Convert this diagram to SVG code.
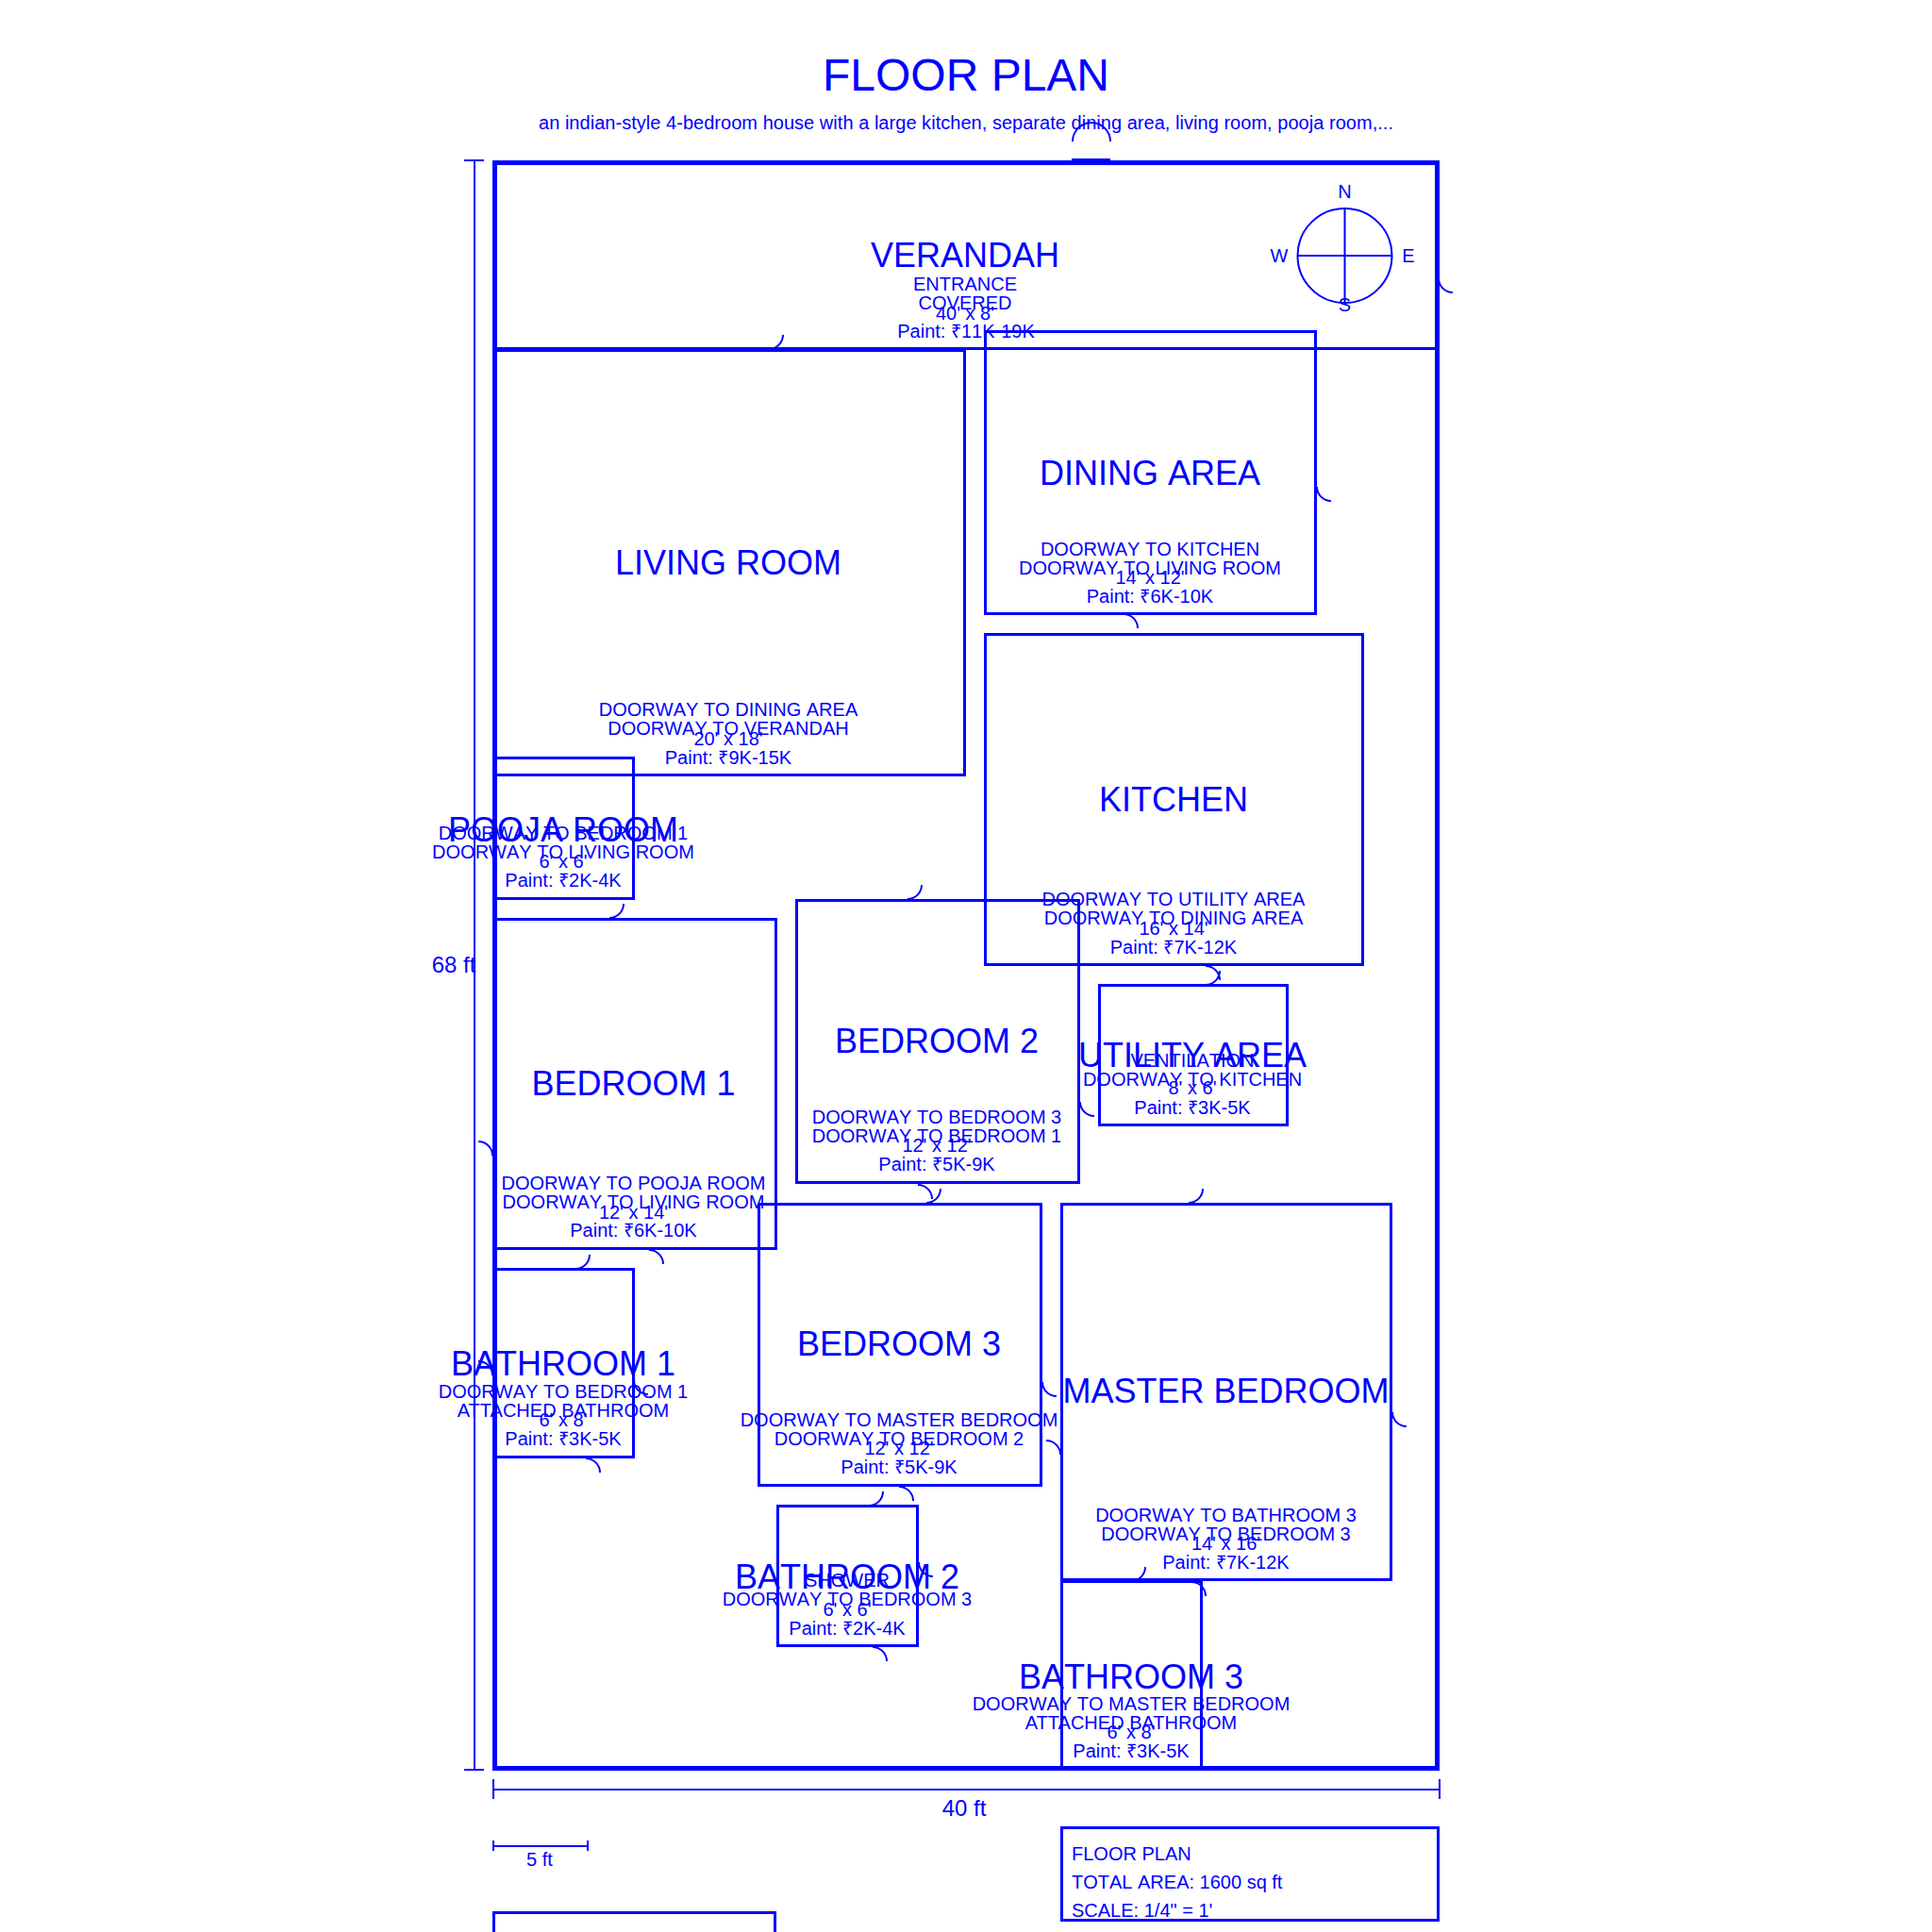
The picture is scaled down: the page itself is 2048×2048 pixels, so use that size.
<svg xmlns="http://www.w3.org/2000/svg" width="2048" height="2048" viewBox="0 0 2048 2048">
<style>
text{font-family:"Liberation Sans",Arial,sans-serif;fill:#00f;text-anchor:middle;font-size:20px;font-kerning:none}
.t{font-size:48px}.n{font-size:36px}.d{font-size:24px}.l{text-anchor:start}.k{font-kerning:normal}
.r{fill:none;stroke:#00f;stroke-width:3}
.w{fill:none;stroke:#00f;stroke-width:5}
.a{fill:none;stroke:#00f;stroke-width:2}
</style>
<rect width="2048" height="2048" fill="#fff"/>
<g id="title"><text class="t" x="1024" y="96">FLOOR PLAN</text>
<text x="1024" y="137" textLength="906">an indian-style 4-bedroom house with a large kitchen, separate dining area, living room, pooja room,...</text></g>
<rect id="outer-wall" class="w" x="524.500" y="172.500" width="999" height="1702"/>
<g id="verandah"><rect class="r" x="524.500" y="171.500" width="999" height="198"/>
<text class="n" x="1023" y="283">VERANDAH</text><text class="k" x="1023" y="308">ENTRANCE</text><text class="k" x="1023" y="328">COVERED</text><text x="1023" y="339">40' x 8'</text><text x="1024" y="358">Paint: ₹11K-19K</text></g>
<g id="living-room"><rect class="r" x="524.500" y="371.500" width="498" height="450"/>
<text class="n" x="772" y="609">LIVING ROOM</text><text x="772" y="759">DOORWAY TO DINING AREA</text><text x="772" y="779">DOORWAY TO VERANDAH</text><text x="772" y="790">20' x 18'</text><text x="772" y="810">Paint: ₹9K-15K</text></g>
<g id="dining-area"><rect class="r" x="1044.500" y="351.500" width="350" height="299"/>
<text class="n" x="1219" y="514">DINING AREA</text><text x="1219" y="589">DOORWAY TO KITCHEN</text><text x="1219" y="609">DOORWAY TO LIVING ROOM</text><text x="1219" y="619">14' x 12'</text><text x="1219" y="639">Paint: ₹6K-10K</text></g>
<g id="kitchen"><rect class="r" x="1044.500" y="672.500" width="400" height="350"/>
<text class="n" x="1244" y="860">KITCHEN</text><text x="1244" y="960">DOORWAY TO UTILITY AREA</text><text x="1244" y="980">DOORWAY TO DINING AREA</text><text x="1244" y="991">16' x 14'</text><text x="1244" y="1011">Paint: ₹7K-12K</text></g>
<g id="pooja-room"><rect class="r" x="524.500" y="803.500" width="147" height="149"/>
<text class="n" x="597" y="892">POOJA ROOM</text><text x="597" y="890">DOORWAY TO BEDROOM 1</text><text x="597" y="910">DOORWAY TO LIVING ROOM</text><text x="597" y="920">6' x 6'</text><text x="597" y="940">Paint: ₹2K-4K</text></g>
<g id="bedroom-1"><rect class="r" x="524.500" y="974.500" width="298" height="349"/>
<text class="n" x="671.500" y="1161">BEDROOM 1</text><text x="671.500" y="1261">DOORWAY TO POOJA ROOM</text><text x="671.500" y="1281">DOORWAY TO LIVING ROOM</text><text x="671.500" y="1292">12' x 14'</text><text x="671.500" y="1311">Paint: ₹6K-10K</text></g>
<g id="bedroom-2"><rect class="r" x="844.500" y="954.500" width="299" height="299"/>
<text class="n" x="993" y="1116">BEDROOM 2</text><text x="993" y="1191">DOORWAY TO BEDROOM 3</text><text x="993" y="1211">DOORWAY TO BEDROOM 1</text><text x="993" y="1221">12' x 12'</text><text x="993" y="1241">Paint: ₹5K-9K</text></g>
<g id="utility-area"><rect class="r" x="1165.500" y="1044.500" width="199" height="148"/>
<text class="n" x="1264" y="1131">UTILITY AREA</text><text x="1264" y="1131">VENTILATION</text><text x="1264" y="1151">DOORWAY TO KITCHEN</text><text x="1264" y="1160">8' x 6'</text><text x="1264" y="1181">Paint: ₹3K-5K</text></g>
<g id="bedroom-3"><rect class="r" x="804.500" y="1276.500" width="299" height="298"/>
<text class="n" x="953" y="1437">BEDROOM 3</text><text x="953" y="1512">DOORWAY TO MASTER BEDROOM</text><text x="953" y="1532">DOORWAY TO BEDROOM 2</text><text x="953" y="1542">12' x 12'</text><text x="953" y="1562">Paint: ₹5K-9K</text></g>
<g id="master-bedroom"><rect class="r" x="1125.500" y="1276.500" width="349" height="398"/>
<text class="n" x="1299.500" y="1487">MASTER BEDROOM</text><text x="1299.500" y="1613">DOORWAY TO BATHROOM 3</text><text x="1299.500" y="1633">DOORWAY TO BEDROOM 3</text><text x="1299.500" y="1643">14' x 16'</text><text x="1299.500" y="1663">Paint: ₹7K-12K</text></g>
<g id="bathroom-1"><rect class="r" x="524.500" y="1345.500" width="147" height="199"/>
<text class="n" x="597" y="1458">BATHROOM 1</text><text x="597" y="1482">DOORWAY TO BEDROOM 1</text><text class="k" x="597" y="1502">ATTACHED BATHROOM</text><text x="597" y="1512">6' x 8'</text><text x="597" y="1532">Paint: ₹3K-5K</text></g>
<g id="bathroom-2"><rect class="r" x="824.500" y="1596.500" width="148" height="148"/>
<text class="n" x="898" y="1684">BATHROOM 2</text><text x="898" y="1682">SHOWER</text><text x="898" y="1702">DOORWAY TO BEDROOM 3</text><text x="898" y="1713">6' x 6'</text><text x="898" y="1733">Paint: ₹2K-4K</text></g>
<g id="bathroom-3"><rect class="r" x="1125.500" y="1676.500" width="148" height="197"/>
<text class="n" x="1199" y="1790">BATHROOM 3</text><text x="1199" y="1813">DOORWAY TO MASTER BEDROOM</text><text class="k" x="1199" y="1833">ATTACHED BATHROOM</text><text x="1199" y="1843">6' x 8'</text><text x="1199" y="1863">Paint: ₹3K-5K</text></g>
<g id="connectors">
<path class="r" d="M1136 169.500H1177"/>
<path class="a" d="M1137 150A20 20 0 0 1 1177 150"/>
<path class="a" d="M830 355A15 15 0 0 1 815 370M1525 295A15 15 0 0 0 1540 310M1396 516A15 15 0 0 0 1411 531M1191 651A15 15 0 0 1 1206 666M661 958A15 15 0 0 1 646 973M977 938A15 15 0 0 1 962 953M507 1210A15 15 0 0 1 522 1225M973 1256A15 15 0 0 1 988 1271M997 1260A15 15 0 0 1 982 1275M625 1330A15 15 0 0 1 610 1345M688 1325A15 15 0 0 1 703 1340M1278 1024A15 15 0 0 1 1293 1039M1293 1029A15 15 0 0 1 1278 1044M1145 1168A15 15 0 0 0 1160 1183M1275 1260A15 15 0 0 1 1260 1275M953 1576A15 15 0 0 1 968 1591M936 1581A15 15 0 0 1 921 1596M621 1546A15 15 0 0 1 636 1561M925 1746A15 15 0 0 1 940 1761M672 1463A15 15 0 0 0 687 1478M974 1656A15 15 0 0 0 989 1671M507 1443A15 15 0 0 1 522 1458M1105 1465A15 15 0 0 0 1120 1480M1109 1527A15 15 0 0 1 1124 1542M1476 1497A15 15 0 0 0 1491 1512M1214 1661A15 15 0 0 1 1199 1676M1263 1677A15 15 0 0 1 1278 1692"/>
</g>
<g id="dimensions">
<path class="a" d="M503 170V1876M492 170H513M492 1876H513M524 1897H1526M523 1886V1907M1526 1886V1907M523 1957H623M523 1951V1962M623 1951V1962"/>
<text class="d" x="481" y="1031">68 ft</text><text class="d" x="1022" y="1925">40 ft</text><text x="572" y="1978">5 ft</text>
</g>
<g id="compass"><circle class="a" cx="1425.500" cy="271" r="50"/><path class="a" d="M1375.500 271H1475.500M1425.500 221V321"/>
<text x="1425.500" y="210">N</text><text x="1425.500" y="330">S</text><text x="1356" y="278">W</text><text x="1493" y="278">E</text></g>
<g id="title-block"><rect class="r" x="1125.500" y="1937.500" width="399" height="98"/>
<text class="l" x="1136" y="1972">FLOOR PLAN</text><text class="l" x="1136" y="2002">TOTAL AREA: 1600 sq ft</text><text class="l" x="1136" y="2032">SCALE: 1/4" = 1'</text></g>
<g id="special-features"><rect class="r" x="523.500" y="2027.500" width="298" height="120"/>
<text class="l" x="535" y="2063">SPECIAL FEATURES</text></g>
</svg>
